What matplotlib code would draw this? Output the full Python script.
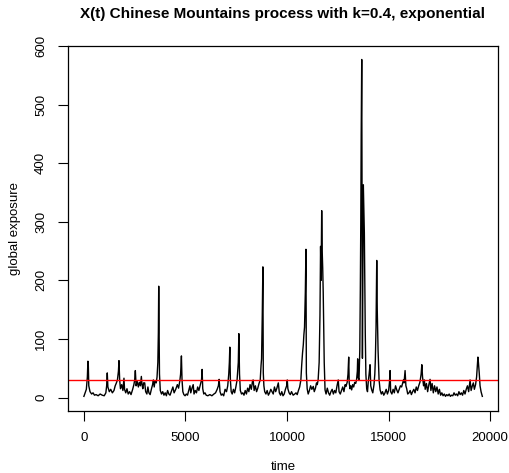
import matplotlib
matplotlib.use('Agg')
import matplotlib.pyplot as plt

plt.rcParams['font.family'] = ['Liberation Sans', 'DejaVu Sans']

title = 'X(t) Chinese Mountains process with k=0.4, exponential'
threshold = 30
x_ticks = [0, 5000, 10000, 15000, 20000]
y_ticks = [0, 100, 200, 300, 400, 500, 600]

# (time, exposure)
series = [
    (0, 2), (60, 8), (120, 14), (170, 35), (197, 62), (215, 58), (240, 20), (300, 10),
    (380, 6), (450, 8), (520, 4), (600, 5), (700, 3), (800, 6), (900, 4), (1000, 3),
    (1080, 8), (1120, 20), (1150, 42), (1180, 18), (1250, 10), (1320, 14), (1400, 8),
    (1480, 12), (1540, 20), (1600, 25), (1650, 30), (1700, 45), (1726, 63), (1760, 30),
    (1800, 15), (1860, 22), (1920, 12), (1972, 33), (2000, 14), (2060, 8), (2120, 15),
    (2180, 6), (2250, 10), (2320, 5), (2400, 14), (2460, 22), (2500, 30), (2532, 46),
    (2570, 20), (2620, 28), (2680, 18), (2730, 26), (2780, 20), (2828, 36), (2860, 22),
    (2900, 15), (2940, 25), (2992, 25), (3040, 10), (3100, 6), (3150, 18), (3200, 8),
    (3260, 5), (3320, 14), (3380, 22), (3420, 30), (3460, 18), (3500, 28), (3560, 25),
    (3600, 35), (3640, 60), (3665, 110), (3683, 190), (3700, 116), (3720, 40), (3760, 12),
    (3820, 6), (3880, 10), (3940, 4), (4000, 8), (4060, 3), (4120, 12), (4180, 6),
    (4240, 4), (4300, 10), (4380, 18), (4440, 8), (4520, 14), (4600, 22), (4660, 16),
    (4720, 28), (4760, 40), (4800, 71), (4830, 30), (4870, 10), (4920, 5), (4980, 3),
    (5040, 6), (5100, 4), (5160, 12), (5220, 20), (5260, 8), (5320, 16), (5380, 22),
    (5420, 6), (5480, 12), (5540, 8), (5600, 18), (5660, 12), (5720, 20), (5790, 30),
    (5818, 48), (5850, 15), (5900, 6), (5960, 8), (6020, 4), (6100, 3), (6200, 5),
    (6300, 3), (6400, 6), (6480, 8), (6560, 14), (6620, 20), (6657, 31), (6700, 10),
    (6760, 4), (6820, 6), (6880, 3), (6950, 14), (7020, 10), (7080, 20), (7130, 40),
    (7160, 60), (7183, 86), (7210, 30), (7250, 10), (7300, 6), (7360, 14), (7420, 8),
    (7480, 18), (7540, 30), (7600, 60), (7627, 109), (7660, 40), (7700, 12), (7760, 6),
    (7820, 8), (7880, 4), (7940, 12), (8000, 6), (8060, 16), (8120, 10), (8180, 22),
    (8240, 14), (8300, 28), (8330, 30), (8380, 12), (8440, 20), (8500, 10), (8560, 16),
    (8620, 24), (8680, 30), (8720, 55), (8745, 66), (8780, 140), (8810, 223), (8830, 42),
    (8860, 20), (8900, 10), (8960, 6), (9020, 12), (9080, 4), (9140, 8), (9200, 14),
    (9260, 10), (9320, 6), (9380, 18), (9440, 10), (9500, 16), (9570, 25), (9620, 8),
    (9680, 4), (9740, 10), (9800, 3), (9860, 6), (9920, 14), (9980, 20), (10010, 30),
    (10040, 15), (10100, 8), (10160, 5), (10220, 10), (10300, 4), (10380, 6), (10440, 8),
    (10500, 5), (10560, 12), (10620, 18), (10680, 30), (10720, 55), (10762, 76),
    (10800, 90), (10828, 107), (10860, 120), (10900, 180), (10930, 253), (10950, 42),
    (10990, 15), (11040, 6), (11100, 12), (11160, 20), (11220, 14), (11290, 19),
    (11340, 10), (11400, 16), (11450, 25), (11488, 22), (11530, 30), (11580, 60),
    (11620, 140), (11650, 258), (11675, 200), (11705, 319), (11730, 250), (11755, 221),
    (11780, 180), (11803, 127), (11830, 60), (11870, 13), (11920, 6), (11980, 16),
    (12040, 8), (12100, 4), (12160, 10), (12220, 14), (12280, 6), (12340, 12),
    (12400, 8), (12460, 20), (12520, 30), (12560, 10), (12620, 6), (12680, 12),
    (12740, 18), (12800, 10), (12860, 22), (12900, 19), (12960, 26), (13000, 40),
    (13035, 69), (13060, 25), (13100, 15), (13140, 20), (13180, 13), (13230, 22),
    (13280, 18), (13330, 26), (13380, 24), (13420, 30), (13460, 45), (13476, 66),
    (13500, 34), (13542, 30), (13580, 80), (13607, 184), (13630, 300), (13650, 450),
    (13676, 577), (13695, 250), (13710, 67), (13730, 200), (13755, 363), (13780, 320),
    (13805, 281), (13830, 180), (13850, 111), (13880, 40), (13920, 15), (13960, 10),
    (14000, 28), (14040, 40), (14085, 56), (14120, 20), (14167, 13), (14220, 8),
    (14280, 22), (14320, 40), (14347, 65), (14380, 120), (14415, 234), (14440, 150),
    (14480, 81), (14530, 30), (14580, 13), (14640, 6), (14700, 10), (14760, 4),
    (14820, 8), (14880, 14), (14940, 6), (15000, 12), (15040, 25), (15070, 46),
    (15100, 10), (15160, 6), (15220, 14), (15280, 8), (15340, 20), (15400, 13),
    (15460, 8), (15520, 14), (15580, 20), (15640, 18), (15700, 26), (15730, 30),
    (15760, 25), (15810, 46), (15850, 20), (15890, 15), (15940, 6), (16000, 8),
    (16060, 12), (16120, 5), (16180, 10), (16240, 14), (16300, 8), (16360, 18),
    (16420, 12), (16480, 20), (16540, 26), (16600, 40), (16634, 56), (16670, 35),
    (16720, 20), (16760, 30), (16800, 14), (16860, 24), (16920, 10), (16980, 22),
    (17040, 31), (17080, 12), (17140, 24), (17200, 8), (17260, 20), (17320, 10),
    (17380, 18), (17440, 6), (17500, 14), (17560, 4), (17620, 8), (17680, 3),
    (17740, 6), (17800, 2), (17860, 5), (17920, 3), (17980, 6), (18040, 2), (18100, 4),
    (18160, 3), (18220, 8), (18280, 4), (18340, 6), (18400, 3), (18460, 10), (18520, 5),
    (18580, 8), (18640, 4), (18700, 12), (18760, 6), (18820, 14), (18880, 20),
    (18940, 10), (19010, 30), (19060, 12), (19120, 20), (19170, 25), (19220, 14),
    (19280, 22), (19330, 35), (19370, 55), (19395, 69), (19420, 60), (19460, 42),
    (19500, 20), (19550, 10), (19612, 2),
]
times = [p[0] for p in series]
exposure = [p[1] for p in series]

fig = plt.figure(figsize=(5.10, 4.73), dpi=100)
ax = fig.add_axes([68 / 510, 62 / 473, 430 / 510, 365 / 473])

ax.plot(times, exposure, color='black', linewidth=1.0)
ax.axhline(threshold, color='red', linewidth=1.0)

ax.set_xlim(-783, 20384)
ax.set_ylim(-23, 600)
ax.set_xticks(x_ticks)
ax.set_yticks(y_ticks)
ax.set_yticklabels([str(v) for v in y_ticks], rotation=90, va='center')
ax.tick_params(axis='both', direction='out', length=7, width=0.8, labelsize=9.5, pad=8)

for s in ax.spines.values():
    s.set_linewidth(0.9)
ax.set_xlabel('time', fontsize=9.5, labelpad=12)
ax.set_ylabel('global exposure', fontsize=9.5, labelpad=10)
ax.set_title(title, fontsize=11, fontweight='bold', pad=20)

fig.savefig('out.png', dpi=100)
